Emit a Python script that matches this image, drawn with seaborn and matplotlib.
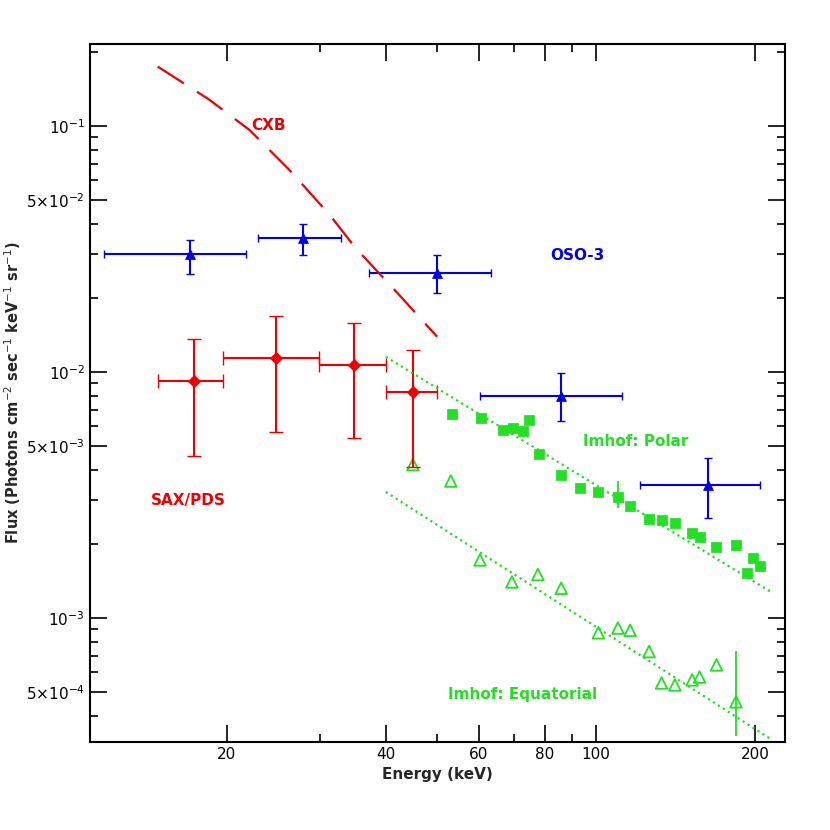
import numpy as np
import pandas as pd
import seaborn as sns
import matplotlib
matplotlib.use("Agg")
import matplotlib.pyplot as plt
from matplotlib.ticker import FixedLocator, FixedFormatter, NullFormatter, LogLocator

RED, BLUE, GREEN = "#ee0000", "#0000ee", "#22e022"

# OSO-3
oso_e = [17.0, 27.9, 50.0, 85.9, 163.0]
oso_lo = [11.7, 22.9, 37.2, 60.3, 121.0]
oso_hi = [21.7, 32.9, 63.3, 112.0, 204.0]
oso_f = [0.030, 0.035, 0.0252, 0.0080, 0.00348]
oso_flo = [0.0249, 0.0299, 0.021, 0.0063, 0.00255]
oso_fhi = [0.0345, 0.040, 0.0299, 0.0099, 0.00447]

# SAX/PDS
sax_e = [17.3, 24.8, 34.8, 45.0]
sax_lo = [14.8, 19.7, 29.9, 40.0]
sax_hi = [19.7, 29.9, 40.0, 50.0]
sax_f = [0.0092, 0.0114, 0.0107, 0.0083]
sax_flo = [0.00456, 0.0057, 0.0054, 0.0041]
sax_fhi = [0.0136, 0.0169, 0.0158, 0.0123]

# CXB model
cxb_e = [14.8, 18.5, 22.1, 26.3, 31.3, 35.0, 42.0, 50.0]
cxb_f = [0.174, 0.128, 0.096, 0.066, 0.0435, 0.032, 0.021, 0.0139]

# Imhof polar
pol_e = [53.3, 60.5, 66.6, 69.7, 72.8, 74.7, 78, 85.9, 93.3, 101, 110, 116, 126,
         133, 141, 152, 157, 169, 184, 193, 198, 204]
pol_f = [0.00675, 0.0065, 0.0058, 0.0059, 0.00575, 0.0064, 0.00465, 0.00381, 0.00337,
         0.00325, 0.0031, 0.00285, 0.00252, 0.0025, 0.00243, 0.00222, 0.00213, 0.00194,
         0.00198, 0.00152, 0.00175, 0.00163]

# Imhof equatorial
eq_e = [45, 53.1, 60.3, 69.3, 77.6, 85.9, 101, 110, 116, 126, 133, 141, 152, 157, 169, 184]
eq_f = [0.0042, 0.0036, 0.00172, 0.0014, 0.0015, 0.00132, 0.00087, 0.00091, 0.00089,
        0.00073, 0.000544, 0.000534, 0.00056, 0.000575, 0.000644, 0.000456]

pol_line_e = [40, 215]
pol_line_f = [0.0115, 0.00127]
eq_line_e = [40, 215]
eq_line_f = [0.00325, 0.00032]

sns.set_style("ticks")
plt.rcParams["font.family"] = ["DejaVu Sans"]

fig = plt.figure(figsize=(8.3, 8.3), dpi=100)
ax = fig.add_axes([0.108, 0.106, 0.838, 0.841])
ax.set_xscale("log")
ax.set_yscale("log")

def errs(c, lo, hi):
    c, lo, hi = map(np.array, (c, lo, hi))
    return [c - lo, hi - c]

ax.errorbar(oso_e, oso_f, xerr=errs(oso_e, oso_lo, oso_hi), yerr=errs(oso_f, oso_flo, oso_fhi),
            fmt="none", ecolor=BLUE, elinewidth=1.5, capsize=3)
sns.scatterplot(x=oso_e, y=oso_f, marker="^", color=BLUE, s=50, edgecolor=BLUE, ax=ax)

ax.errorbar(sax_e, sax_f, xerr=errs(sax_e, sax_lo, sax_hi), yerr=errs(sax_f, sax_flo, sax_fhi),
            fmt="none", ecolor=RED, elinewidth=1.5, capsize=5)
sns.scatterplot(x=sax_e, y=sax_f, marker="D", color=RED, s=40, edgecolor=RED, ax=ax)

cxb = pd.DataFrame({"e": cxb_e, "f": cxb_f})
sns.lineplot(data=cxb, x="e", y="f", color=RED, lw=1.6, ax=ax)
ax.lines[-1].set_dashes([14, 7])

sns.scatterplot(x=pol_e, y=pol_f, marker="s", color=GREEN, s=45, edgecolor=GREEN, ax=ax)
ax.errorbar([110], [0.0031], yerr=[[0.0003], [0.0005]], fmt="none", ecolor=GREEN, elinewidth=1.3)
sns.scatterplot(x=eq_e, y=eq_f, marker="^", facecolor="none", edgecolor=GREEN, linewidth=1.3,
                s=70, ax=ax)
ax.errorbar([184], [0.000456], yerr=[[0.000126], [0.00028]], fmt="none", ecolor=GREEN, elinewidth=1.3)

ax.plot(pol_line_e, pol_line_f, color=GREEN, ls=":", lw=1.6)
ax.plot(eq_line_e, eq_line_f, color=GREEN, ls=":", lw=1.6)

kw = dict(fontsize=11, fontweight="bold", ha="center", va="center")
ax.text(24, 0.1, "CXB", color=RED, **kw)
ax.text(92, 0.0298, "OSO-3", color=BLUE, **kw)
ax.text(119, 0.0052, "Imhof: Polar", color=GREEN, **kw)
ax.text(16.9, 0.0030, "SAX/PDS", color=RED, **kw)
ax.text(72.5, 0.00049, "Imhof: Equatorial", color=GREEN, **kw)

ax.set_xlim(11.0, 228)
ax.set_ylim(3.13e-4, 0.215)

xt = [20, 40, 60, 80, 100, 200]
ax.xaxis.set_major_locator(FixedLocator(xt))
ax.xaxis.set_major_formatter(FixedFormatter([str(v) for v in xt]))
ax.xaxis.set_minor_locator(LogLocator(subs=np.arange(1, 10)))
ax.xaxis.set_minor_formatter(NullFormatter())
yt = [5e-4, 1e-3, 5e-3, 1e-2, 5e-2, 1e-1]
ylab = [r"$5{\times}10^{-4}$", r"$10^{-3}$", r"$5{\times}10^{-3}$", r"$10^{-2}$",
        r"$5{\times}10^{-2}$", r"$10^{-1}$"]
ax.yaxis.set_major_locator(FixedLocator(yt))
ax.yaxis.set_major_formatter(FixedFormatter(ylab))
ax.yaxis.set_minor_locator(LogLocator(subs=np.arange(1, 10)))
ax.yaxis.set_minor_formatter(NullFormatter())
ax.tick_params(which="both", direction="in", top=True, right=True, width=1.2, labelsize=11,
               colors="black")
ax.tick_params(which="major", length=12)
ax.tick_params(which="minor", length=6)
for s in ax.spines.values():
    s.set_linewidth(1.5)
    s.set_color("black")

ax.set_xlabel("Energy (keV)", fontsize=11, fontweight="bold")
ax.set_ylabel(r"Flux (Photons cm$^{-2}$ sec$^{-1}$ keV$^{-1}$ sr$^{-1}$)", fontsize=10.5,
              fontweight="bold", labelpad=2)

fig.savefig("out.png", dpi=100)
